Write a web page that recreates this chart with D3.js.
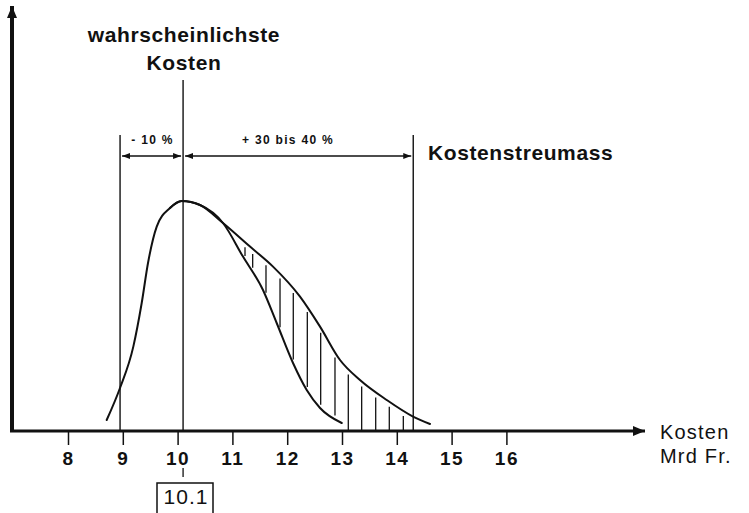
<!DOCTYPE html>
<html>
<head>
<meta charset="utf-8">
<script src="https://cdn.jsdelivr.net/npm/d3@7"></script>
<style>
  html, body { margin: 0; padding: 0; background: #fff; }
  svg { display: block; }
  text { font-family: "Liberation Sans", Arial, Helvetica, sans-serif; fill: #111; }
</style>
</head>
<body>
<script>
// ---- data ----
const xTicks = [8, 9, 10, 11, 12, 13, 14, 15, 16];
const mostLikely = 10.1;
const lowerBound = 8.95;
const upperBound = 14.3;

// narrow (steep) cost distribution
const narrowX = [8.706, 8.949, 9.192, 9.345, 9.460, 9.619, 9.861, 10.075, 10.409, 10.828, 11.193, 11.558, 11.808, 12.106, 12.356, 12.599, 12.995];
const narrowY = [2.75, 10.75, 21.1, 32, 42, 51.1, 55.75, 57.5, 56.5, 52, 43.6, 35.25, 27, 17, 10.25, 5.75, 2];
// wide distribution (with scatter)
const wideX = [9.861, 10.075, 10.409, 10.828, 11.321, 11.741, 12.234, 12.599, 12.964, 13.328, 13.816, 14.296, 14.606];
const wideY = [55.75, 57.5, 56.5, 52, 46.1, 41.1, 33.6, 26.1, 17.75, 12.75, 7.75, 3.6, 1.75];
// hatching positions
const hatchX = [11.230, 11.370, 11.613, 11.869, 12.111, 12.367, 12.611, 12.872, 13.115, 13.359, 13.615, 13.863, 14.119];

const titleLines = ["wahrscheinlichste", "Kosten"];
const lowerLabel = "- 10 %";
const upperLabel = "+ 30 bis 40 %";
const spreadLabel = "Kostenstreumass";
const axisLabelLines = ["Kosten", "Mrd Fr."];
const valueLabel = "10.1";

// ---- layout ----
const W = 749, H = 513;
const axisY = 431, axisLeft = 12, axisRight = 645, axisTop = 6;
const x = d3.scaleLinear().domain([8, 16]).range([68, 506.4]);
const y = d3.scaleLinear().domain([0, 100]).range([axisY, 31]);
const ink = "#111";

const svg = d3.select("body").append("svg").attr("width", W).attr("height", H);
const defs = svg.append("defs");
defs.append("marker").attr("id", "bigArrow").attr("viewBox", "0 0 12 10")
  .attr("refX", 12).attr("refY", 5).attr("markerWidth", 12).attr("markerHeight", 10)
  .attr("markerUnits", "userSpaceOnUse").attr("orient", "auto")
  .append("path").attr("d", "M0,0 L12,5 L0,10 Z").attr("fill", ink);
defs.append("marker").attr("id", "smallArrow").attr("viewBox", "0 0 8 6")
  .attr("refX", 8).attr("refY", 3).attr("markerWidth", 8).attr("markerHeight", 6)
  .attr("markerUnits", "userSpaceOnUse").attr("orient", "auto-start-reverse")
  .append("path").attr("d", "M0,0 L8,3 L0,6 Z").attr("fill", ink);

// axes
svg.append("line").attr("x1", axisLeft).attr("y1", axisY).attr("x2", axisLeft).attr("y2", axisTop)
  .attr("stroke", ink).attr("stroke-width", 4).attr("marker-end", "url(#bigArrow)");
svg.append("line").attr("x1", axisLeft - 2).attr("y1", axisY).attr("x2", axisRight).attr("y2", axisY)
  .attr("stroke", ink).attr("stroke-width", 3).attr("marker-end", "url(#bigArrow)");

const xAxis = d3.axisBottom(x).tickValues(xTicks).tickSize(13).tickPadding(7).tickFormat(d3.format("d"));
const gx = svg.append("g").attr("transform", `translate(0,${axisY + 1})`).call(xAxis);
gx.select(".domain").remove();
gx.selectAll(".tick line").attr("stroke", ink).attr("stroke-width", 1.5);
gx.selectAll(".tick text").attr("font-size", 19).attr("font-weight", "bold")
  .attr("letter-spacing", 1.5).attr("fill", ink)
  .style("font-family", '"Liberation Sans", Arial, sans-serif');

// vertical reference lines
svg.append("line").attr("x1", x(mostLikely)).attr("x2", x(mostLikely)).attr("y1", 80).attr("y2", axisY)
  .attr("stroke", ink).attr("stroke-width", 1.4);
[lowerBound, upperBound].forEach(v => {
  svg.append("line").attr("x1", x(v)).attr("x2", x(v)).attr("y1", 135).attr("y2", axisY)
    .attr("stroke", ink).attr("stroke-width", 1.4);
});

// dimension arrows
const arrowY = 156;
[[lowerBound, mostLikely], [mostLikely, upperBound]].forEach(([a, b]) => {
  svg.append("line").attr("x1", x(a) + 2).attr("x2", x(b) - 2).attr("y1", arrowY).attr("y2", arrowY)
    .attr("stroke", ink).attr("stroke-width", 1.6)
    .attr("marker-start", "url(#smallArrow)").attr("marker-end", "url(#smallArrow)");
});
svg.append("text").attr("x", (x(lowerBound) + x(mostLikely)) / 2 + 1).attr("y", 144)
  .attr("text-anchor", "middle").attr("font-size", 12).attr("font-weight", "bold")
  .attr("letter-spacing", 1.3).attr("xml:space", "preserve").text(lowerLabel);
svg.append("text").attr("x", 288).attr("y", 144)
  .attr("text-anchor", "middle").attr("font-size", 12).attr("font-weight", "bold")
  .attr("letter-spacing", 1.3).attr("xml:space", "preserve").text(upperLabel);

// curves
const line = d3.line().x(d => x(d[0])).y(d => y(d[1])).curve(d3.curveMonotoneX);
const narrow = narrowX.map((v, i) => [v, narrowY[i]]);
const wide = wideX.map((v, i) => [v, wideY[i]]);
const wideP = svg.append("path").attr("d", line(wide)).attr("fill", "none")
  .attr("stroke", ink).attr("stroke-width", 2).attr("stroke-linecap", "round");
const narrowP = svg.append("path").attr("d", line(narrow)).attr("fill", "none")
  .attr("stroke", ink).attr("stroke-width", 2).attr("stroke-linecap", "round");

function yAtX(node, px) {
  const L = node.getTotalLength();
  const s = node.getPointAtLength(0), e = node.getPointAtLength(L);
  if (px < s.x || px > e.x) return null;
  let lo = 0, hi = L;
  for (let i = 0; i < 40; i++) {
    const mid = (lo + hi) / 2;
    if (node.getPointAtLength(mid).x < px) lo = mid; else hi = mid;
  }
  return node.getPointAtLength((lo + hi) / 2).y;
}
hatchX.forEach(v => {
  const px = x(v);
  const top = yAtX(wideP.node(), px);
  const bot = yAtX(narrowP.node(), px);
  const y1 = top + 5;
  const y2 = bot === null ? axisY - 1 : bot - 4;
  if (y2 > y1) {
    svg.append("line").attr("x1", px).attr("x2", px).attr("y1", y1).attr("y2", y2)
      .attr("stroke", ink).attr("stroke-width", 1.3);
  }
});

// texts
const tTitle = svg.append("text").attr("text-anchor", "middle").attr("font-size", 21)
  .attr("font-weight", "bold").attr("letter-spacing", 0.6);
tTitle.append("tspan").attr("x", 184).attr("y", 42).text(titleLines[0]);
tTitle.append("tspan").attr("x", 184).attr("y", 70).text(titleLines[1]);

svg.append("text").attr("x", 428).attr("y", 160).attr("font-size", 21).attr("font-weight", "bold")
  .attr("letter-spacing", 0.6).text(spreadLabel);

const tAx = svg.append("text").attr("font-size", 20).attr("letter-spacing", 1.2);
tAx.append("tspan").attr("x", 660).attr("y", 439).text(axisLabelLines[0]);
tAx.append("tspan").attr("x", 660).attr("y", 463).attr("xml:space", "preserve").text(axisLabelLines[1]);

// value box
svg.append("line").attr("x1", x(mostLikely)).attr("x2", x(mostLikely)).attr("y1", 468).attr("y2", 477)
  .attr("stroke", ink).attr("stroke-width", 1.3);
svg.append("path").attr("d", `M157,515 V483 H213 V515`).attr("fill", "none")
  .attr("stroke", ink).attr("stroke-width", 1.5);
svg.append("text").attr("x", 186).attr("y", 504).attr("text-anchor", "middle")
  .attr("font-size", 21).attr("letter-spacing", 1).text(valueLabel);
</script>
</body>
</html>
